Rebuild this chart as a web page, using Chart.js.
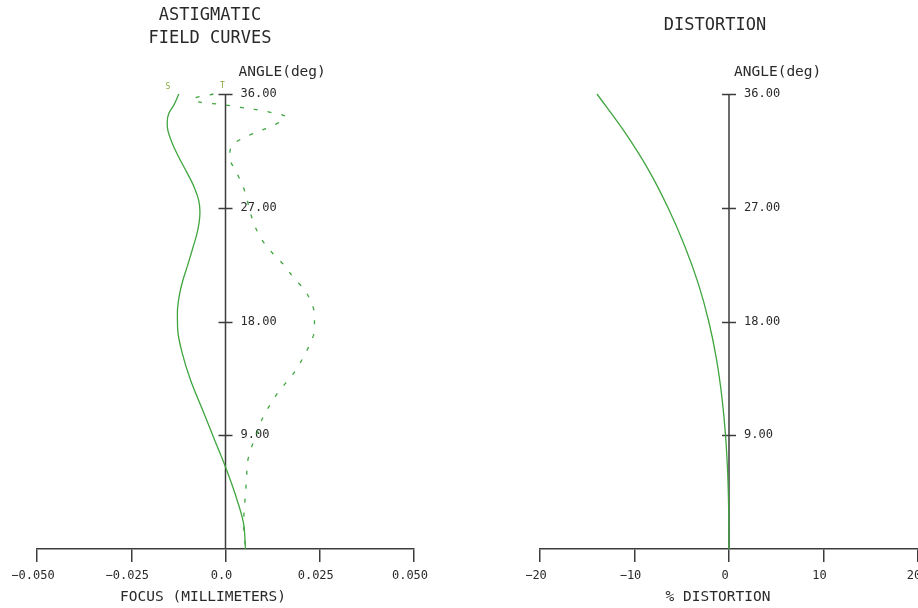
<!DOCTYPE html>
<html>
<head>
<meta charset="utf-8">
<script src="https://cdn.jsdelivr.net/npm/chart.js@4.4.1/dist/chart.umd.min.js"></script>
<style>
  html, body { margin: 0; padding: 0; background: #fff; overflow: hidden; }
  body { width: 918px; height: 608px; position: relative; }
  canvas { position: absolute; top: 0; }
  #fieldChart { left: 0; }
  #distChart { left: 459px; }
</style>
</head>
<body>
<canvas id="fieldChart" width="459" height="608"></canvas>
<canvas id="distChart" width="520" height="608"></canvas>
<script>
// Field angle axis (shared by both plots)
const angleTicks = [9, 18, 27, 36];
const angleTickLabels = ['9.00', '18.00', '27.00', '36.00'];

// Horizontal axes
const focusTicks = [-0.05, -0.025, 0, 0.025, 0.05];
const focusTickLabels = ['\u22120.050', '\u22120.025', '0.0', '0.025', '0.050'];
const distTicks = [-20, -10, 0, 10, 20];
const distTickLabels = ['\u221220', '\u221210', '0', '10', '20'];

// Sagittal field curve (S), focus shift in mm
const sagAngle = [36.0, 35.12, 34.48, 33.77, 33.14, 32.11, 31.0, 29.74, 28.63, 27.6, 26.65, 25.78, 24.8, 23.89, 22.46, 21.28, 19.93, 18.67, 17.32, 15.5, 13.37, 10.76, 8.78, 6.49, 4.27, 2.06, 0];
const sagFocus = [-0.01238, -0.01371, -0.01503, -0.01546, -0.0153, -0.01413, -0.01238, -0.01015, -0.0083, -0.00712, -0.00678, -0.00702, -0.0077, -0.0086, -0.01003, -0.01128, -0.01232, -0.01276, -0.01267, -0.01148, -0.00928, -0.00575, -0.0031, 0.0, 0.00265, 0.00477, 0.0053];

// Tangential field curve (T), focus shift in mm
const tanAngle = [36.0, 35.6, 35.3, 35.2, 35.0, 34.8, 34.6, 34.2, 33.6, 33.1, 32.6, 32.0, 31.0, 29.8, 28.8, 27.8, 26.6, 25.4, 24.4, 23.4, 22.5, 21.5, 20.6, 19.5, 18.5, 17.3, 16.3, 15.2, 14.0, 13.1, 12.2, 11.2, 10.0, 9.0, 7.8, 6.8, 5.6, 4.4, 3.2, 2.1, 0];
const tanFocus = [-0.0032, -0.0087, -0.0058, -0.0019, 0.0027, 0.0072, 0.0111, 0.0159, 0.0133, 0.0093, 0.0053, 0.0019, 0.0011, 0.0029, 0.0045, 0.0056, 0.0066, 0.0080, 0.0098, 0.0125, 0.0154, 0.0180, 0.0207, 0.0228, 0.0236, 0.0236, 0.0225, 0.0207, 0.0183, 0.0159, 0.0135, 0.0114, 0.0093, 0.0082, 0.0066, 0.0058, 0.0056, 0.0053, 0.0050, 0.0048, 0.0053];

// Distortion, percent
const distAngle = [36, 33, 30, 27, 24, 21, 18, 15, 12, 9, 6, 3, 0];
const distPercent = [-13.97, -11.05, -8.52, -6.45, -4.7, -3.25, -2.14, -1.32, -0.75, -0.37, -0.14, -0.03, 0];

const AXIS = '#3c3c3c';
const TEXT = '#2a2a2a';
const GREEN = '#3fa53f';
const LABEL_GREEN = '#86a83a';
const MONO = '"DejaVu Sans Mono", "Liberation Mono", monospace';

Chart.defaults.font.family = MONO;
Chart.defaults.color = TEXT;

const toPoints = (xs, ys) => xs.map((v, i) => ({ x: v, y: ys[i] }));

// draws the vertical angle axis at x = 0 plus all the free text
const angleAxis = {
  id: 'angleAxis',
  beforeDatasetsDraw(chart, args, opts) {
    const { ctx, scales: { x, y } } = chart;
    const x0 = x.getPixelForValue(0);
    ctx.save();
    ctx.strokeStyle = AXIS;
    ctx.lineWidth = 1.5;
    ctx.beginPath();
    ctx.moveTo(x0, y.getPixelForValue(0));
    ctx.lineTo(x0, y.getPixelForValue(36));
    angleTicks.forEach(a => {
      const py = Math.round(y.getPixelForValue(a)) + 0.5;
      ctx.moveTo(x0 - 7, py);
      ctx.lineTo(x0 + 7, py);
    });
    ctx.stroke();

    ctx.fillStyle = TEXT;
    ctx.textBaseline = 'middle';
    ctx.textAlign = 'left';
    ctx.font = '12px ' + MONO;
    angleTicks.forEach((a, i) => {
      ctx.fillText(angleTickLabels[i], x0 + 15, y.getPixelForValue(a));
    });
    ctx.font = '14.5px ' + MONO;
    ctx.fillText('ANGLE(deg)', x0 + opts.angleDx, y.getPixelForValue(36) - 22);

    ctx.textAlign = 'center';
    ctx.fillText(opts.xTitle, opts.xTitleX, 597);
    ctx.font = '17px ' + MONO;
    opts.title.forEach((t, i) => ctx.fillText(t, opts.titleX, opts.titleY + i * 23));

    // curve names next to the top of each field curve
    if (opts.curveNames) {
      ctx.font = '8px ' + MONO;
      ctx.fillStyle = LABEL_GREEN;
      chart.data.datasets.forEach((ds, i) => {
        const p = ds.data[0];
        const d = opts.curveNames[i];
        ctx.fillText(ds.label, x.getPixelForValue(p.x) + d[0], y.getPixelForValue(p.y) + d[1]);
      });
    }
    ctx.restore();
  }
};

function xScale(ticks, labels, min, max) {
  return {
    type: 'linear',
    position: 'bottom',
    min, max,
    afterBuildTicks: s => { s.ticks = ticks.map(v => ({ value: v })); },
    afterFit: s => { s.height = 40; },
    ticks: {
      callback: (v, i) => labels[i],
      labelOffset: -4,
      padding: 7,
      maxRotation: 0,
      color: TEXT,
      font: { size: 12, family: MONO }
    },
    grid: { drawOnChartArea: false, drawTicks: true, tickLength: 13, color: AXIS, lineWidth: 1.5 },
    border: { color: AXIS, width: 1.5 }
  };
}

const yScale = { type: 'linear', min: 0, max: 36, display: false };

// angle is the independent variable, so the curves are splined along y
const curve = (label, xs, ys, extra) => Object.assign({
  label,
  data: toPoints(xs, ys),
  borderColor: GREEN,
  borderWidth: 1.3,
  pointRadius: 0,
  fill: false,
  cubicInterpolationMode: 'monotone',
  capBezierPoints: false,
  clip: false
}, extra);

const baseOptions = (padding, scaleX, plugin) => ({
  responsive: false,
  animation: false,
  devicePixelRatio: 1,
  indexAxis: 'y',
  layout: { padding },
  scales: { x: scaleX, y: yScale },
  plugins: {
    legend: { display: false },
    tooltip: { enabled: false },
    angleAxis: plugin
  }
});

new Chart(document.getElementById('fieldChart'), {
  type: 'line',
  data: {
    datasets: [
      curve('S', sagFocus, sagAngle),
      curve('T', tanFocus, tanAngle, { borderDash: [4, 10] })
    ]
  },
  options: baseOptions(
    { left: 37, right: 45, top: 94, bottom: 19 },
    xScale(focusTicks, focusTickLabels, -0.05, 0.05),
    {
      angleDx: 13,
      xTitle: 'FOCUS (MILLIMETERS)',
      xTitleX: 203,
      title: ['ASTIGMATIC', 'FIELD CURVES'],
      titleX: 210,
      titleY: 16,
      curveNames: [[-11, -7], [9, -8]]
    }
  ),
  plugins: [angleAxis]
});

new Chart(document.getElementById('distChart'), {
  type: 'line',
  data: {
    datasets: [curve('Distortion', distPercent, distAngle)]
  },
  options: baseOptions(
    { left: 81, right: 61, top: 94, bottom: 19 },
    xScale(distTicks, distTickLabels, -20, 20),
    {
      angleDx: 5,
      xTitle: '% DISTORTION',
      xTitleX: 259,
      title: ['DISTORTION'],
      titleX: 256,
      titleY: 26
    }
  ),
  plugins: [angleAxis]
});
</script>
</body>
</html>
